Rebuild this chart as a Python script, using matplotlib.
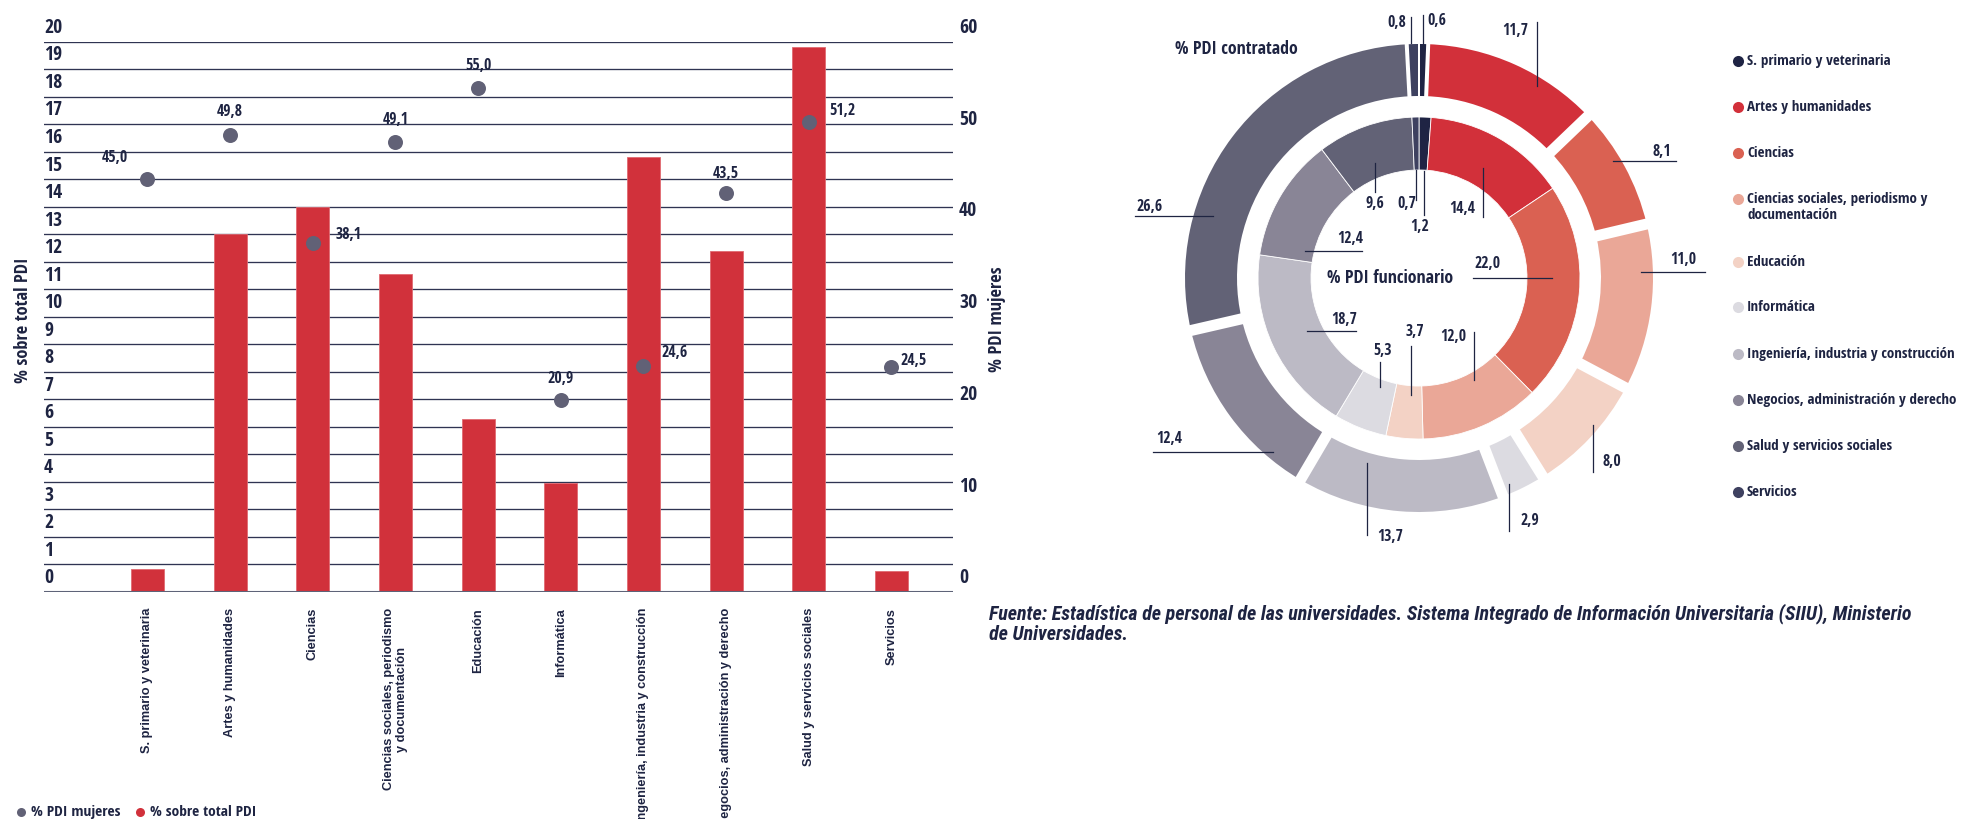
import numpy as np
import matplotlib
matplotlib.use("Agg")
import matplotlib.pyplot as plt
from matplotlib import font_manager
from matplotlib.font_manager import FontProperties

# ------------------------------------------------------------------ data
categories = [
    "S. primario y veterinaria", "Artes y humanidades", "Ciencias",
    "Ciencias sociales, periodismo\ny documentación", "Educación", "Informática",
    "Ingeniería, industria y construcción", "Negocios, administración y derecho",
    "Salud y servicios sociales", "Servicios",
]
legend_names = [
    "S. primario y veterinaria", "Artes y humanidades", "Ciencias",
    "Ciencias sociales, periodismo y\ndocumentación", "Educación", "Informática",
    "Ingeniería, industria y construcción", "Negocios, administración y derecho",
    "Salud y servicios sociales", "Servicios",
]
pct_sobre_total = [0.85, 13.0, 14.0, 11.55, 6.3, 3.95, 15.8, 12.4, 19.8, 0.75]
pct_mujeres = [45.0, 49.8, 38.1, 49.1, 55.0, 20.9, 24.6, 43.5, 51.2, 24.5]
pct_contratado = [0.6, 11.7, 8.1, 11.0, 8.0, 2.9, 13.7, 12.4, 26.6, 0.8]
pct_funcionario = [1.2, 14.4, 22.0, 12.0, 3.7, 5.3, 18.7, 12.4, 9.6, 0.7]
left_ticks = list(range(0, 21))
right_ticks = list(range(0, 61, 10))
series_names = ["% PDI mujeres", "% sobre total PDI"]
left_title = "% sobre total PDI"
right_title = "% PDI mujeres"
ring_titles = ["% PDI contratado", "% PDI funcionario"]
source_note = ("Fuente: Estadística de personal de las universidades. Sistema Integrado de "
               "Información Universitaria (SIIU), Ministerio\nde Universidades.")

# ------------------------------------------------------------------ style
W, H = 1967, 819
TEXT = "#1e2442"
GRID = "#2f3452"
BASE = "#5e6378"
RED = "#d1313b"
DOT = "#616176"
SECTOR_COLORS = ["#1f2444", "#d2303a", "#da6152", "#eaa797", "#f3d2c5",
                 "#dcdbe1", "#bcbac5", "#898596", "#626276", "#3e4160"]


def fmt(v):
    return f"{v:.1f}".replace(".", ",")


def _weight_num(f):
    w = f.weight
    if isinstance(w, str):
        return {"normal": 400, "regular": 400, "medium": 500, "semibold": 600,
                "demibold": 600, "bold": 700, "heavy": 800, "black": 900}.get(w, 400)
    return w


def pick_condensed(italic=False):
    """A narrow bold face, falling back to DejaVu Sans Condensed."""
    entries = font_manager.fontManager.ttflist

    def style_ok(f):
        return (f.style in ("italic", "oblique")) if italic else (f.style == "normal")

    prefs = [
        lambda f: f.name == "Liberation Sans Narrow",
        lambda f: f.name in ("Roboto Condensed", "Arial Narrow", "Open Sans Condensed"),
        lambda f: ("Narrow" in f.name or "Condensed" in f.name),
        lambda f: f.name in ("Roboto", "Open Sans", "Noto Sans") and f.stretch == "condensed",
        lambda f: f.name == "DejaVu Sans" and f.stretch == "condensed",
    ]
    for test in prefs:
        found = [f for f in entries if test(f) and style_ok(f) and _weight_num(f) >= 600]
        if found:
            best = min(found, key=lambda f: abs(_weight_num(f) - 700))
            return FontProperties(fname=best.fname)
    return FontProperties(family="DejaVu Sans", weight="bold", stretch="condensed",
                          style="italic" if italic else "normal")


_NARROW = pick_condensed(False)
_NARROW_IT = pick_condensed(True)
_WIDE = FontProperties(family="Liberation Sans", weight="bold")

fig = plt.figure(figsize=(W / 100, H / 100), dpi=100)
fig.patch.set_facecolor("white")
_renderer = fig.canvas.get_renderer()


def fit(sample, width_px, base=None):
    """Font properties sized so that `sample` spans `width_px` pixels."""
    fp = (base if base is not None else _NARROW).copy()
    fp.set_size(10)
    t = fig.text(0, 0, sample, fontproperties=fp)
    w = t.get_window_extent(_renderer).width
    t.remove()
    fp.set_size(10 * width_px / w)
    return fp


F_TICK = fit("20", 18)
F_DOTLAB = fit("45,0", 26)
F_AXTITLE = fit(left_title, 126)
F_LEG_BOTTOM = fit(series_names[0], 89)
F_LEG_RIGHT = fit(legend_names[0], 144)
F_SOURCE = fit(source_note.split("\n")[0], 923, _NARROW_IT)
F_RINGVAL = fit("26,6", 26)
F_RINGTITLE = fit(ring_titles[1], 127)
F_CAT = fit(categories[0], 145, _WIDE)


def px_box(x0, y0, x1, y1):
    return [x0 / W, 1 - y1 / H, (x1 - x0) / W, (y1 - y0) / H]


# ------------------------------------------------------------------ bar + dot chart
ax = fig.add_axes(px_box(44, 41.7, 953, 592))
ax.set_xlim(-1.252, 9.744)
ax.set_ylim(0, 20)
ax.axis("off")
x = np.arange(len(categories))

for v in left_ticks[1:]:
    ax.axhline(v, color=GRID, lw=0.95, zorder=1)
ax.axhline(0, color=BASE, lw=1.5, zorder=3)
ax.bar(x, pct_sobre_total, width=0.4, color=RED, edgecolor="#e06a72", linewidth=0.6, zorder=2)

ax2 = ax.twinx()
ax2.set_ylim(0, 60)
ax2.axis("off")
ax2.plot(x, pct_mujeres, "o", ms=10.8, color=DOT, mec="none", zorder=5)

# value labels for the dots: (dx, dy) in pixels and alignment
dot_label_layout = [(-33, 21, "center"), (0, 23, "center"), (23, 8, "left"),
                    (0, 22, "center"), (0, 22, "center"), (0, 21, "center"),
                    (18, 13, "left"), (0, 19, "center"), (20, 11, "left"), (9, 6, "left")]
for xi, val, (dx, dy, ha) in zip(x, pct_mujeres, dot_label_layout):
    ax2.annotate(fmt(val), xy=(xi, val), xytext=(dx, dy), textcoords="offset pixels",
                 ha=ha, va="center", color=TEXT, fontproperties=F_DOTLAB)

# axis numbers sit half a step above their gridline
for v in left_ticks:
    ax.text(0, v + 0.5, str(v), transform=ax.get_yaxis_transform(), ha="left",
            va="center", color=TEXT, fontproperties=F_TICK, clip_on=False)
for v in right_ticks:
    ax2.text(1.0066, v + 1.5, str(v), transform=ax2.get_yaxis_transform(), ha="left",
             va="center", color=TEXT, fontproperties=F_TICK, clip_on=False)

for xi, lab in zip(x, categories):
    ax.annotate(lab, xy=(xi, 0), xycoords=("data", "axes fraction"), xytext=(0, -16),
                textcoords="offset pixels", rotation=90, ha="center", va="top",
                multialignment="center", color=TEXT, fontproperties=F_CAT,
                annotation_clip=False)

# ------------------------------------------------------------------ overlay in pixel units
ov = fig.add_axes([0, 0, 1, 1])
ov.set_xlim(0, W)
ov.set_ylim(H, 0)
ov.axis("off")

ov.text(23, 320, left_title, rotation=90, ha="center", va="center", color=TEXT,
        fontproperties=F_AXTITLE)
ov.text(997, 319, right_title, rotation=90, ha="center", va="center", color=TEXT,
        fontproperties=F_AXTITLE)

# bottom-left legend
for (mx, tx), name, col in zip([(21, 31), (140, 150)], series_names, [DOT, RED]):
    ov.plot(mx, 812, "o", ms=6.5, color=col, mec="none")
    ov.text(tx, 812, name, ha="left", va="center", color=TEXT, fontproperties=F_LEG_BOTTOM)

# right legend
legend_rows = [61, 107, 153, 199, 262, 307, 354, 400, 446, 492]
for row, name, col in zip(legend_rows, legend_names, SECTOR_COLORS):
    ov.plot(1738, row, "o", ms=8, color=col, mec="none")
    for li, line in enumerate(name.split("\n")):
        ov.text(1747, row + 16 * li, line, ha="left", va="center", color=TEXT,
                fontproperties=F_LEG_RIGHT)

# source note
for li, line in enumerate(source_note.split("\n")):
    ov.text(989, 614 + 20 * li, line, ha="left", va="center", color=TEXT,
            fontproperties=F_SOURCE)

# ------------------------------------------------------------------ rings
dax = fig.add_axes(px_box(1100, 0, 1730, 560))
R_OUT, W_OUT = 234, 52
R_IN, W_IN = 161, 53
dax.pie(pct_contratado, colors=SECTOR_COLORS, startangle=90, counterclock=False,
        radius=R_OUT, wedgeprops=dict(width=W_OUT, linewidth=0, edgecolor="none"))
dax.pie(pct_funcionario, colors=SECTOR_COLORS, startangle=90, counterclock=False,
        radius=R_IN, wedgeprops=dict(width=W_IN, linewidth=0.6, edgecolor="white"))

# white gaps between the outer sectors (narrower next to the thin slivers)
vals = np.asarray(pct_contratado)
bounds = np.concatenate([[0.0], np.cumsum(vals)[:-1]]) / vals.sum()
for k, f in enumerate(bounds):
    prev_small = vals[k - 1] < 1.5
    cur_small = vals[k] < 1.5
    gap_px = 2 if (prev_small and cur_small) else (4 if (prev_small or cur_small) else 11)
    ang = np.deg2rad(90 - 360 * f)
    r = np.array([R_OUT - W_OUT - 6, R_OUT + 6])
    dax.plot(r * np.cos(ang), r * np.sin(ang), color="white", lw=gap_px * 0.72,
             solid_capstyle="butt", zorder=3)

dax.set_xlim(-319, 311)
dax.set_ylim(-282, 278)
dax.set_aspect("equal")
dax.axis("off")

# label anchors (pixels from the ring centre) and leader segments
outer_text_pos = [(18, 257), (96, 247), (243, 126), (264, 18), (193, -184),
                  (111, -243), (-29, -259), (-250, -161), (-269, 71), (-22, 255)]
outer_leaders = [((4, 263), (4, 231)), ((118, 256), (118, 192)), ((194, 117), (257, 117)),
                 ((222, 6), (286, 6)), ((174, -147), (174, -194)), ((90, -206), (90, -253)),
                 ((-52, -185), (-52, -257)), ((-266, -174), (-146, -174)),
                 ((-284, 62), (-206, 62)), ((-8, 261), (-8, 235))]
inner_text_pos = [(1, 51), (43, 69), (69, 14), (34, -59), (-4, -54), (-36, -73),
                  (-75, -42), (-69, 39), (-44, 74), (-12, 74)]
inner_leaders = [((5, 107), (5, 63)), ((64, 110), (64, 61)), ((54, 0), (133, 0)),
                 ((55, -54), (55, -102)), ((-8, -68), (-8, -117)), ((-39, -84), (-39, -109)),
                 ((-112, -53), (-63, -53)), ((-114, 27), (-57, 27)), ((-44, 115), (-44, 86)),
                 ((-3, 108), (-3, 78))]

for vals_, tpos, leads in [(pct_contratado, outer_text_pos, outer_leaders),
                           (pct_funcionario, inner_text_pos, inner_leaders)]:
    for val, (tx, ty), ((x0, y0), (x1, y1)) in zip(vals_, tpos, leads):
        dax.plot([x0, x1], [y0, y1], color=TEXT, lw=0.9, zorder=4, clip_on=False)
        dax.text(tx, ty, fmt(val), ha="center", va="center", color=TEXT,
                 fontproperties=F_RINGVAL, zorder=5, clip_on=False)

dax.text(-183, 229, ring_titles[0], ha="center", va="center", color=TEXT,
         fontproperties=F_RINGTITLE)
dax.text(-29, 0, ring_titles[1], ha="center", va="center", color=TEXT,
         fontproperties=F_RINGTITLE)

fig.savefig("out.png", dpi=100, facecolor="white")
